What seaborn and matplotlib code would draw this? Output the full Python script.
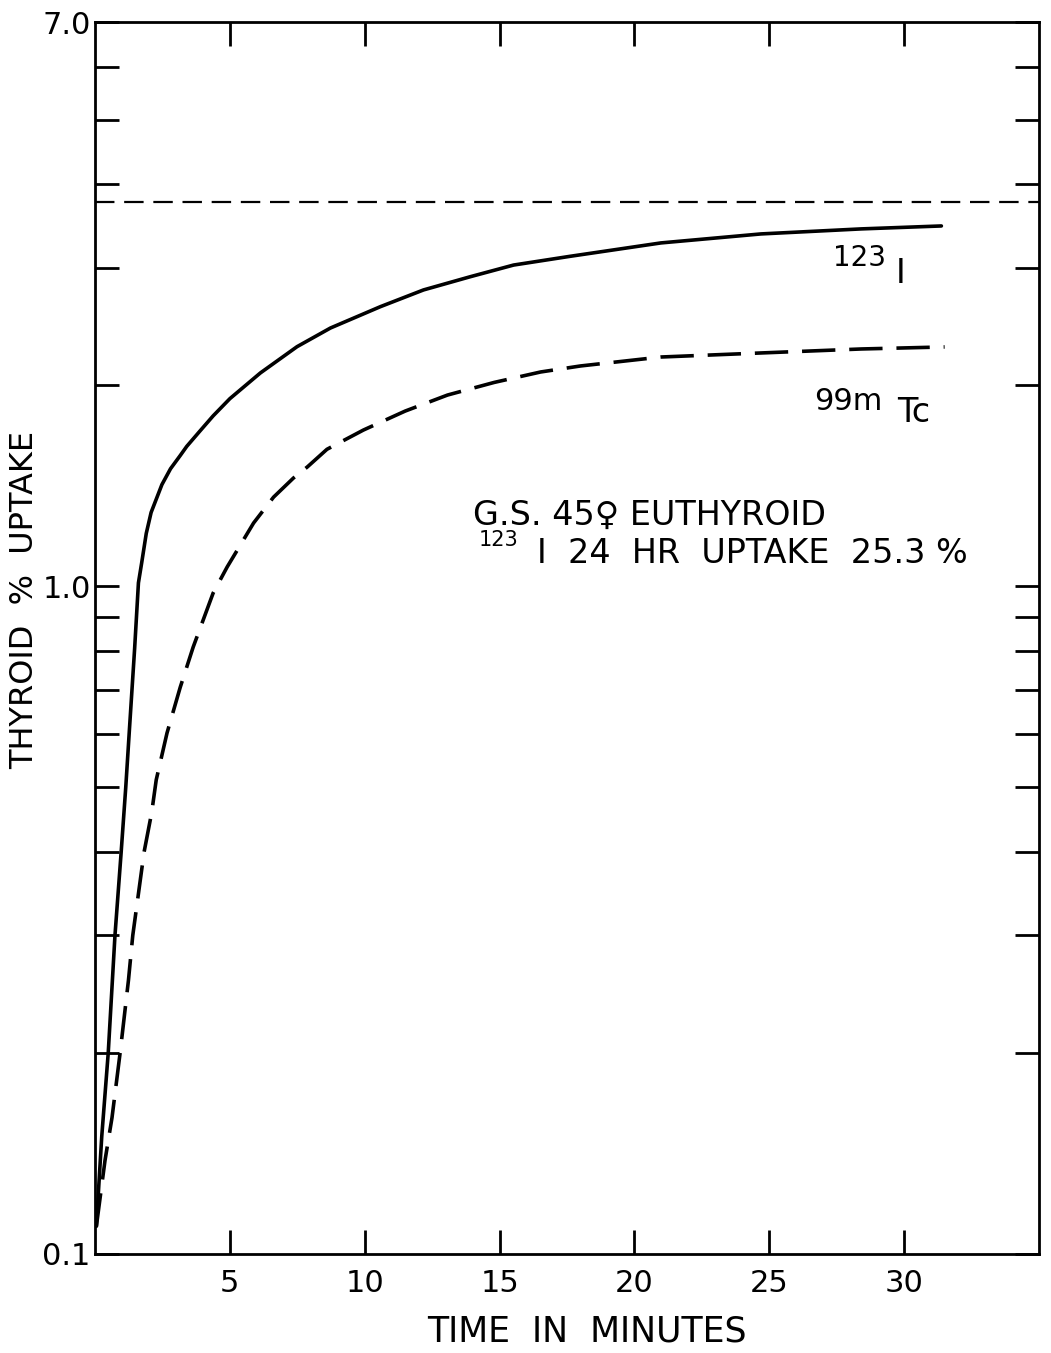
"""Thyroid uptake curves, 123I vs 99mTc"""
import matplotlib
matplotlib.use("Agg")
import matplotlib.pyplot as plt
import seaborn as sns

# values
time_i123 = [0.05, 0.25, 0.49, 0.74, 0.97, 1.14, 1.27, 1.47, 1.61, 1.73, 1.90, 2.08, 2.48,
             2.80, 3.16, 3.40, 3.90, 4.38, 5.0, 6.13, 7.49, 8.73, 10.58, 12.18,
             13.92, 15.52, 17.6, 20.98, 24.69, 28.41, 31.38]
uptake_i123 = [0.11, 0.15, 0.20, 0.30, 0.40, 0.50, 0.605, 0.808, 1.012, 1.084, 1.20, 1.29, 1.42,
               1.50, 1.57, 1.62, 1.71, 1.80, 1.91, 2.087, 2.285, 2.437, 2.623, 2.779,
               2.909, 3.028, 3.12, 3.268, 3.371, 3.43, 3.465]

time_tc99m = [0.05, 0.37, 0.63, 0.93, 1.24, 1.40, 1.82, 2.10, 2.27, 2.67, 3.16, 3.64,
              4.38, 4.9, 5.88, 6.62, 7.36, 7.87, 8.6, 9.95, 11.5, 13.07, 14.8, 16.52, 18.0,
              20.98, 24.69, 28.41, 31.5]
uptake_tc99m = [0.11, 0.138, 0.160, 0.20, 0.257, 0.30, 0.40, 0.458, 0.513, 0.603, 0.706, 0.811,
                0.977, 1.069, 1.244, 1.36, 1.453, 1.509, 1.604, 1.714, 1.83, 1.934, 2.02, 2.094,
                2.138, 2.205, 2.236, 2.267, 2.283]

reference_level = 3.76

x_ticks = [5, 10, 15, 20, 25, 30]
x_tick_labels = ["5", "10", "15", "20", "25", "30"]
y_major = [0.1, 1.0, 7.0]
y_major_labels = ["0.1", "1.0", "7.0"]
y_minor = [0.2, 0.3, 0.4, 0.5, 0.6, 0.7, 0.8, 0.9, 2, 3, 4, 5, 6]

sns.set_style("ticks")
plt.rcParams["font.family"] = ["DejaVu Sans"]
plt.rcParams["lines.scale_dashes"] = False
for key in ["text.color", "axes.labelcolor", "xtick.color", "ytick.color", "axes.edgecolor"]:
    plt.rcParams[key] = "black"

fig = plt.figure(figsize=(10.51, 13.53), dpi=100)
ax = fig.add_axes([0.0904, 0.0732, 0.8982, 0.9105])
ax.set_yscale("log")

sns.lineplot(x=time_i123, y=uptake_i123, ax=ax, color="black", lw=2.6,
             estimator=None, sort=False)
sns.lineplot(x=time_tc99m, y=uptake_tc99m, ax=ax, color="black", lw=2.6,
             estimator=None, sort=False, linestyle=(0, (24, 10)))
ax.axhline(reference_level, color="black", lw=1.6, linestyle=(0, (14, 7)))

ax.set_xlim(0, 35)
ax.set_ylim(0.1, 7.0)

ax.set_xticks(x_ticks)
ax.set_xticklabels(x_tick_labels)
ax.set_yticks(y_major)
ax.set_yticklabels(y_major_labels)
ax.set_yticks(y_minor, minor=True)
ax.yaxis.set_minor_formatter(matplotlib.ticker.NullFormatter())

ax.tick_params(which="both", direction="in", length=17, width=2,
               top=True, right=True, labelsize=22)
ax.tick_params(axis="x", pad=11)
ax.tick_params(axis="y", pad=3)
for side in ax.spines.values():
    side.set_linewidth(2)

ax.set_xlabel("TIME  IN  MINUTES", fontsize=25)
ax.set_ylabel("THYROID  %  UPTAKE", fontsize=23)
ax.xaxis.set_label_coords(0.521, -0.049)
ax.yaxis.set_label_coords(-0.058, 0.531)

# curve labels
ax.text(27.35, 3.018, "123", fontsize=20, va="baseline")
ax.text(29.7, 2.847, "I", fontsize=24, va="baseline")
ax.text(26.66, 1.837, "99m", fontsize=22, va="baseline")
ax.text(29.75, 1.762, "Tc", fontsize=24, va="baseline")

# patient note
ax.text(14.0, 1.236, "G.S. 45\u2640 EUTHYROID", fontsize=24, va="baseline")
ax.text(14.22, 1.148, "123", fontsize=15, va="baseline")
ax.text(16.38, 1.084, "I  24  HR  UPTAKE  25.3 %", fontsize=24, va="baseline")

fig.savefig("out.png", dpi=100)
